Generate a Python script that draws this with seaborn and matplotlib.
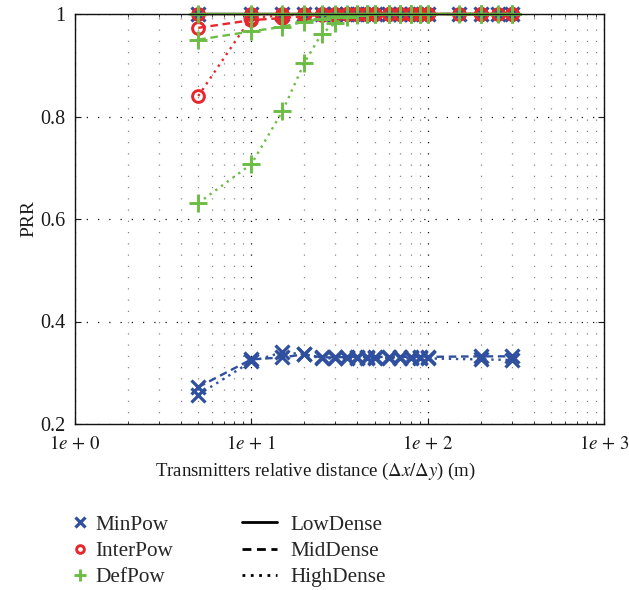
import numpy as np
import pandas as pd
import matplotlib
matplotlib.use("Agg")
import matplotlib.pyplot as plt
from matplotlib.lines import Line2D
from matplotlib.ticker import LogLocator, FixedLocator, NullFormatter
import seaborn as sns

# Transmitter spacing (m)
dist_low = [5, 10, 15, 20, 25, 30, 35, 40, 45, 50, 60, 70, 80, 90, 100, 150, 200, 250, 300]
dist_other = [5, 10, 15, 20, 25, 30, 35, 40, 45, 50, 60, 70, 80, 90, 100, 200, 300]

# PRR per power level and density
minpow_low = [1.0] * 19
minpow_mid = [0.272, 0.326, 0.330, 0.336, 0.330, 0.330, 0.331, 0.331, 0.331, 0.331, 0.331,
              0.331, 0.331, 0.331, 0.331, 0.332, 0.332]
minpow_high = [0.257, 0.322, 0.340, 0.336, 0.328, 0.328, 0.328, 0.329, 0.329, 0.329, 0.329,
               0.329, 0.328, 0.328, 0.328, 0.326, 0.325]
interpow_low = [1.0] * 19
interpow_mid = [0.973, 0.988, 0.992, 0.996, 0.998, 0.999, 1.0, 1.0, 1.0, 1.0, 1.0,
                1.0, 1.0, 1.0, 1.0, 1.0, 1.0]
interpow_high = [0.840, 0.993, 0.997, 0.999, 1.0, 1.0, 1.0, 1.0, 1.0, 1.0, 1.0,
                 1.0, 1.0, 1.0, 1.0, 1.0, 1.0]
defpow_low = [1.0] * 19
defpow_mid = [0.950, 0.966, 0.975, 0.985, 0.990, 0.995, 0.998, 1.0, 1.0, 1.0, 1.0,
              1.0, 1.0, 1.0, 1.0, 1.0, 1.0]
defpow_high = [0.631, 0.707, 0.810, 0.905, 0.961, 0.983, 0.995, 0.999, 1.0, 1.0, 1.0,
               1.0, 1.0, 1.0, 1.0, 1.0, 1.0]

powers = ["MinPow", "InterPow", "DefPow"]
densities = ["LowDense", "MidDense", "HighDense"]
xticklabels = [r"$1e\,+\,0$", r"$1e\,+\,1$", r"$1e\,+\,2$", r"$1e\,+\,3$"]
yticks = [0.2, 0.4, 0.6, 0.8, 1.0]
yticklabels = ["0.2", "0.4", "0.6", "0.8", "1"]

series = {
    ("MinPow", "LowDense"): (dist_low, minpow_low),
    ("MinPow", "MidDense"): (dist_other, minpow_mid),
    ("MinPow", "HighDense"): (dist_other, minpow_high),
    ("InterPow", "LowDense"): (dist_low, interpow_low),
    ("InterPow", "MidDense"): (dist_other, interpow_mid),
    ("InterPow", "HighDense"): (dist_other, interpow_high),
    ("DefPow", "LowDense"): (dist_low, defpow_low),
    ("DefPow", "MidDense"): (dist_other, defpow_mid),
    ("DefPow", "HighDense"): (dist_other, defpow_high),
}
rows = []
for (p, d), (xs, ys) in series.items():
    for xv, yv in zip(xs, ys):
        rows.append({"distance": xv, "prr": yv, "power": p, "density": d})
df = pd.DataFrame(rows)

sns.set_theme(style="ticks")
plt.rcParams["font.family"] = ["Liberation Serif", "DejaVu Serif"]
plt.rcParams["mathtext.fontset"] = "stix"

colors = {"MinPow": "#2f4f9f", "InterPow": "#e8262b", "DefPow": "#6cbd45"}
mstyle = {
    "MinPow": dict(marker="x", markersize=10, markeredgewidth=2.3),
    "InterPow": dict(marker="o", markersize=8.5, markeredgewidth=2.1, markerfacecolor="none"),
    "DefPow": dict(marker="+", markersize=13, markeredgewidth=2.1),
}
lstyle = {"LowDense": "-", "MidDense": (0, (3.2, 2.0)), "HighDense": (0, (1, 2))}

W, H = 629, 590
fig = plt.figure(figsize=(W / 100, H / 100), dpi=100)
ax = fig.add_axes([75 / W, 1 - 424 / H, (604 - 75) / W, (424 - 14) / H])

for p in powers:
    for d in densities:
        sub = df[(df["power"] == p) & (df["density"] == d)]
        sns.lineplot(data=sub, x="distance", y="prr", ax=ax, color=colors[p],
                     linestyle=lstyle[d], linewidth=1.7, estimator=None,
                     legend=False, markeredgecolor=colors[p], clip_on=False,
                     **mstyle[p])

ax.set_xscale("log")
ax.set_xlim(1, 1000)
ax.set_ylim(0.2, 1.0)
ax.xaxis.set_major_locator(FixedLocator([1, 10, 100, 1000]))
ax.set_xticklabels(xticklabels)
ax.xaxis.set_minor_locator(LogLocator(base=10, subs=np.arange(2, 10), numticks=20))
ax.xaxis.set_minor_formatter(NullFormatter())
ax.set_yticks(yticks)
ax.set_yticklabels(yticklabels)

ax.tick_params(which="both", direction="in", top=True, right=True, labelsize=14.5, colors="#1a1a1a")
ax.tick_params(axis="x", labelsize=13.6)
ax.tick_params(which="major", length=4, width=0.8)
ax.tick_params(which="minor", length=2.5, width=0.6)
ax.tick_params(axis="x", pad=8)
ax.tick_params(axis="y", pad=7)
for s in ax.spines.values():
    s.set_linewidth(1.0)
    s.set_color("#111111")

ax.grid(which="major", axis="both", color="#111111", linestyle=(0, (1, 8)), linewidth=0.9)
ax.grid(which="minor", axis="x", color="#888888", linestyle=(0, (1, 8)), linewidth=0.9)
ax.set_axisbelow(True)

ax.set_xlabel(r"Transmitters relative distance ($\Delta x/\Delta y$) (m)", fontsize=13.5,
              color="#1a1a1a")
ax.xaxis.set_label_coords((315 - 75) / (604 - 75), -(471 - 424) / (424 - 14), transform=ax.transAxes)
ax.xaxis.label.set_va("center")
ax.set_ylabel("PRR", fontsize=14, labelpad=2, color="#1a1a1a")

# Legend: power levels (markers) and densities (line styles) side by side
power_handles = []
for p in powers:
    kw = dict(mstyle[p])
    kw["markersize"] = kw["markersize"] * 0.65
    power_handles.append(Line2D([], [], color=colors[p], linestyle="none", **kw))
density_handles = [Line2D([], [], color="black", linestyle=lstyle[d], linewidth=2.0)
                   for d in densities]

common = dict(loc="upper left", frameon=False, fontsize=15.3, labelspacing=0.3,
              borderpad=0, borderaxespad=0)
fig.legend(power_handles, powers, bbox_to_anchor=(71 / W, 1 - 515 / H),
           handlelength=0.8, handletextpad=0.36, **common)
fig.legend(density_handles, densities, bbox_to_anchor=(242 / W, 1 - 515 / H),
           handlelength=1.67, handletextpad=0.62, **common)

fig.savefig("out.png", dpi=100)
